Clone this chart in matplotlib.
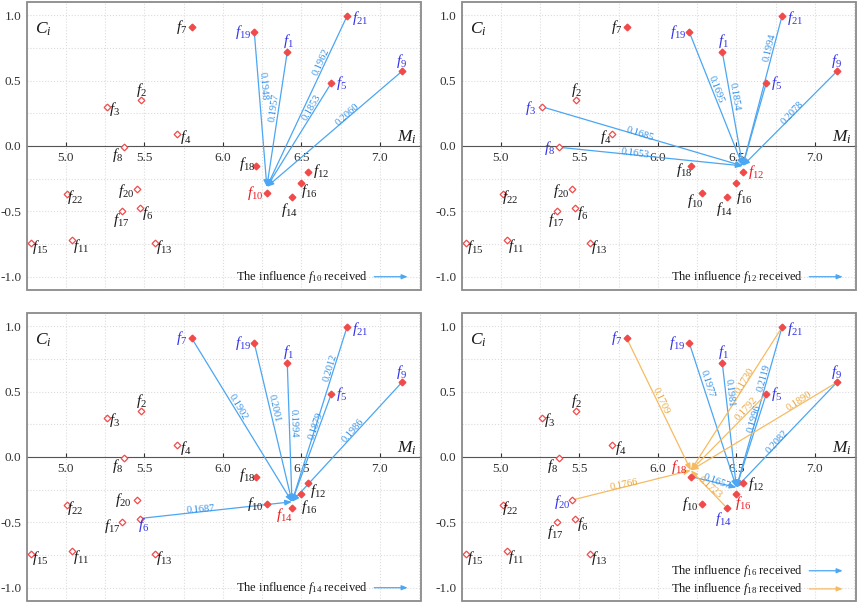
import matplotlib
matplotlib.use("Agg")
import matplotlib.pyplot as plt
import numpy as np
from matplotlib.patches import Rectangle
from matplotlib.ticker import MultipleLocator
from matplotlib.transforms import ScaledTranslation

plt.rcParams["font.family"] = ["Liberation Serif", "DejaVu Serif"]
plt.rcParams["mathtext.fontset"] = "custom"
plt.rcParams["mathtext.rm"] = "Liberation Serif"
plt.rcParams["mathtext.it"] = "Liberation Serif:italic"
plt.rcParams["mathtext.bf"] = "Liberation Serif:bold"
plt.rcParams["axes.unicode_minus"] = False

# factor coordinates: prominence M_i and relation C_i for f1..f22
M = [6.41, 5.48, 5.26, 5.71, 6.69, 5.47, 5.80, 5.37, 7.14, 6.28, 5.04,
     6.54, 5.57, 6.44, 4.78, 6.50, 5.36, 6.21, 6.20, 5.45, 6.79, 5.01]
C = [0.72, 0.35, 0.30, 0.09, 0.48, -0.47, 0.91, -0.01, 0.57, -0.36, -0.72,
     -0.20, -0.74, -0.39, -0.74, -0.28, -0.50, -0.15, 0.87, -0.33, 0.99, -0.37]
key_factors = [1, 5, 7, 9, 10, 12, 14, 16, 18, 19, 21]

# influences received
src_f10 = [19, 1, 21, 5, 9]
w_f10 = [0.1948, 0.1957, 0.1962, 0.1853, 0.2060]
src_f12 = [3, 8, 19, 1, 21, 5, 9]
w_f12 = [0.1685, 0.1653, 0.1695, 0.1854, 0.1994, None, 0.2078]
src_f14 = [7, 19, 1, 21, 5, 9, 6]
w_f14 = [0.1902, 0.2001, 0.1994, 0.2012, 0.1879, 0.1986, 0.1687]
src_f16 = [19, 1, 21, 5, 9, 18]
w_f16 = [0.1977, 0.1981, 0.2119, 0.1996, 0.2082, 0.1657]
src_f18 = [7, 21, 5, 9, 20, 14]
w_f18 = [0.1709, 0.1730, 0.1792, 0.1890, 0.1766, 0.1723]

# where along each arrow the weight sits
pos_f10 = [0.34, 0.40, 0.27, 0.24, 0.38]
pos_f12 = [0.48, 0.41, 0.42, 0.38, 0.21, 0.0, 0.44]
pos_f14 = [0.42, 0.40, 0.42, 0.23, 0.29, 0.41, 0.40]
pos_f16 = [0.28, 0.23, 0.31, 0.26, 0.56, 0.53]
pos_f18 = [0.47, 0.37, 0.22, 0.24, 0.45, 0.55]

BLUE = ("#4ba6f3", "#2f8fe8")      # arrow, weight text
ORANGE = ("#f6bb62", "#eaa53a")
RED = "#f04a4a"
LBL_RED = "#ec1c24"
LBL_BLUE = "#3434e6"
HEAD = "-|>,head_length=0.5,head_width=0.2"

# label offsets (pixels) from the marker
base_shift = {1: (1, 11), 2: (0, 10), 3: (8, -2), 4: (8, -3), 5: (10, 0), 6: (8, -5),
              7: (-10, 0), 8: (-6, -8), 9: (0, 10), 10: (-12, 0), 11: (9, -6),
              12: (13, 1), 13: (9, -4), 14: (-3, -13), 15: (9, -4), 16: (8, -8),
              17: (-1, -9), 18: (-9, 2), 19: (-11, 0), 20: (-10, -2), 21: (13, -2),
              22: (8, -3)}
shift_p2 = {3: (-11, -1), 8: (-9, -1), 4: (-7, -3), 18: (-7, -4), 10: (-7, -8),
            14: (-3, -12), 16: (8, -14), 12: (13, 0)}
shift_p3 = {14: (-8, -7), 16: (8, -13), 12: (10, -8), 6: (4, -6), 17: (-10, -4),
            20: (-13, 0)}
shift_p4 = {18: (-12, 10), 16: (7, -9), 12: (13, -1), 14: (-4, -11), 20: (-9, -2),
            17: (-2, -10), 19: (-12, 0)}


def draw_panel(ax, groups, shifts):
    ax.set_xlim(4.75, 7.26)
    ax.set_ylim(-1.1, 1.1)
    ax.xaxis.set_major_locator(MultipleLocator(0.5))
    ax.xaxis.set_minor_locator(MultipleLocator(0.25))
    ax.yaxis.set_major_locator(MultipleLocator(0.5))
    ax.yaxis.set_minor_locator(MultipleLocator(0.25))
    ax.set_axisbelow(True)
    ax.grid(which="both", color="#dcdcdc", linestyle=":", linewidth=0.8)
    for s in ["top", "right", "left"]:
        ax.spines[s].set_visible(False)
    ax.spines["bottom"].set_position(("data", 0))
    ax.spines["bottom"].set_color("#555555")
    ax.tick_params(axis="x", direction="in", length=3, pad=4, labelsize=9.5,
                   colors="#333333", which="major")
    ax.tick_params(axis="x", which="minor", length=0)
    ax.tick_params(axis="y", which="both", length=0, pad=4, labelsize=9.5,
                   colors="#333333")
    ax.add_patch(Rectangle((0, 0), 1, 1, transform=ax.transAxes, fill=False,
                           ec="#8a8a8a", lw=1.3, clip_on=False, zorder=6))

    targets = [g[0] for g in groups]
    sources = set(s for g in groups for s in g[1])
    # arrows stop a little above the receiving factor
    tip = ax.transData + ScaledTranslation(0, 4.5 / 72, ax.figure.dpi_scale_trans)

    for tgt, srcs, ws, fr, (col, tcol) in groups:
        tx, ty = M[tgt - 1], C[tgt - 1]
        for s, w, t in zip(srcs, ws, fr):
            sx, sy = M[s - 1], C[s - 1]
            ax.annotate("", xy=(tx, ty), xycoords=tip, xytext=(sx, sy),
                        textcoords="data", zorder=3,
                        arrowprops=dict(arrowstyle=HEAD, color=col, lw=0.9,
                                        shrinkA=0, shrinkB=0, mutation_scale=8))
            if w is None:
                continue
            px, py = sx + t * (tx - sx), sy + t * (ty - sy)
            ang = np.degrees(np.arctan2(ty - sy, tx - sx))
            if ang > 90:
                ang -= 180
            elif ang <= -90:
                ang += 180
            ax.text(px, py, f"{w:.4f}", rotation=ang, transform_rotates_text=True,
                    rotation_mode="anchor", ha="center", va="bottom", fontsize=7.5,
                    color=tcol, zorder=4)

    for i in range(len(M)):
        f = i + 1
        if f in key_factors:
            ax.plot(M[i], C[i], "D", ms=3.4, color=RED, mec=RED, zorder=5)
        else:
            ax.plot(M[i], C[i], "D", ms=3.4, mfc="white", mec=RED, mew=0.9, zorder=5)
        if f in targets:
            c = LBL_RED
        elif f in sources:
            c = LBL_BLUE
        else:
            c = "#1a1a1a"
        dx, dy = shifts.get(f, base_shift[f])
        ax.annotate(r"$f_{%d}$" % f, xy=(M[i], C[i]), xytext=(dx * 0.72, dy * 0.72),
                    textcoords="offset points", ha="center", va="center",
                    fontsize=11, color=c, zorder=5)

    ax.text(0.021, 0.935, r"$C_i$", transform=ax.transAxes, ha="left", va="top",
            fontsize=12.5, color="#1a1a1a")
    ax.text(0.99, 0.0, r"$M_i$", transform=ax.get_yaxis_transform(), ha="right",
            va="bottom", fontsize=12.5, color="#1a1a1a")

    ys = [0.046] if len(groups) == 1 else [0.105, 0.042]
    for (tgt, _, _, _, (col, _)), y in zip(groups, ys):
        ax.text(0.865, y, r"The influence $f_{%d}$ received" % tgt, transform=ax.transAxes,
                ha="right", va="center", fontsize=9, color="#1a1a1a")
        ax.annotate("", xy=(0.967, y), xytext=(0.882, y), xycoords="axes fraction",
                    arrowprops=dict(arrowstyle=HEAD, color=col, lw=0.9, shrinkA=0,
                                    shrinkB=0, mutation_scale=7))


fig = plt.figure(figsize=(8.58, 6.04), dpi=100)
W, H = 394 / 858, 288 / 604
ax1 = fig.add_axes([0.0311, 0.5199, W, H])
ax2 = fig.add_axes([0.5381, 0.5199, W, H])
ax3 = fig.add_axes([0.0311, 0.005, W, H])
ax4 = fig.add_axes([0.5381, 0.005, W, H])

draw_panel(ax1, [(10, src_f10, w_f10, pos_f10, BLUE)], {})
draw_panel(ax2, [(12, src_f12, w_f12, pos_f12, BLUE)], shift_p2)
draw_panel(ax3, [(14, src_f14, w_f14, pos_f14, BLUE)], shift_p3)
draw_panel(ax4, [(16, src_f16, w_f16, pos_f16, BLUE),
                 (18, src_f18, w_f18, pos_f18, ORANGE)], shift_p4)

fig.savefig("out.png", dpi=100)
